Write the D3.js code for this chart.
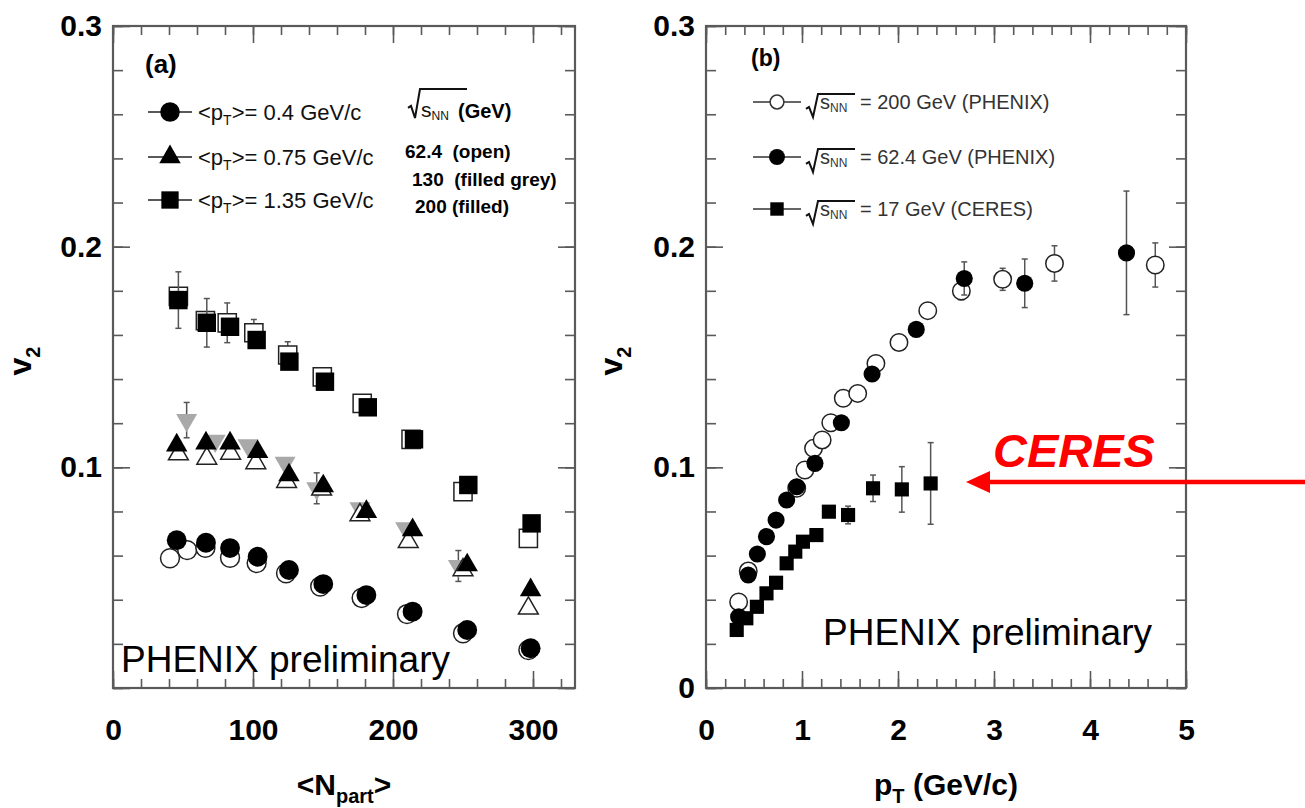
<!DOCTYPE html>
<html>
<head>
<meta charset="utf-8">
<script src="https://cdn.jsdelivr.net/npm/d3@7"></script>
<style>
  body { margin: 0; background: #fff; }
  svg { display: block; font-family: "Liberation Sans", Arial, sans-serif; }
</style>
</head>
<body>
<div id="chart"></div>
<script>
// ---- data ----
const v2Major = [0, 0.1, 0.2, 0.3];
const v2Minor = d3.range(0, 0.301, 0.02);
const npartMajor = [0, 100, 200, 300];
const npartMinor = d3.range(0, 321, 20);
const ptMajor = [0, 1, 2, 3, 4, 5];
const ptMinor = d3.range(0, 5.01, 0.2);

// panel (a): [Npart, v2, err]
const circ62 = [[40.7,0.0588],[53,0.0625],[66,0.0635],[83.6,0.059],[102.6,0.0566],[123.6,0.052],[148,0.046],[177.6,0.0408],[210,0.0335],[250,0.0248],[296.7,0.0172]];
const circ200 = [[45.5,0.067],[66.4,0.0658],[83.6,0.0634],[103.3,0.0595],[125.7,0.0535],[150.2,0.0471],[181,0.0421],[214,0.0346],[253,0.0263],[298.3,0.018]];
const tri130 = [[52.6,0.1214,0.008],[73,0.112],[96.4,0.110],[122.9,0.102],[145.5,0.0905,0.007],[176.4,0.0814],[209,0.0724],[246.7,0.0553,0.007]];
const tri62 = [[46.7,0.106],[67,0.104],[84,0.1063],[102,0.102],[124,0.0935],[149,0.090],[176.4,0.0784],[210.9,0.0663],[250,0.0535],[296.7,0.0361]];
const tri200 = [[45.5,0.110],[66.4,0.1109],[83.6,0.1109],[103.3,0.107],[125.7,0.0965],[150.2,0.0915],[181,0.0799],[214,0.0716],[253,0.0557],[298.3,0.0444]];
const sq62 = [[46.7,0.1775],[66,0.1665],[81.6,0.1655,0.009],[100.6,0.161,0.006],[124.8,0.1509,0.006],[149.5,0.141],[178,0.129],[212.9,0.1127],[250,0.089,0.003],[296.7,0.0678,0.003]];
const sq200 = [[46.7,0.1758,0.0128],[67,0.1655,0.011],[83.6,0.1637],[102.6,0.1577],[126,0.1479],[151.4,0.1388],[182,0.1272],[215,0.1127],[253.8,0.092],[299,0.0746]];

// panel (b): [pT, v2, err]
const phenix200 = [[0.34,0.039],[0.44,0.053],[0.945,0.0905],[1.03,0.0988],[1.12,0.1086],[1.21,0.1124],[1.3,0.1202],[1.43,0.1313],[1.58,0.1335],[1.77,0.1471],[2.01,0.1566],[2.31,0.171],[2.66,0.1799,0.004],[3.09,0.1852,0.005],[3.63,0.1924,0.008],[4.68,0.1917,0.01]];
const phenix62 = [[0.34,0.0323],[0.44,0.0512],[0.535,0.0607],[0.63,0.0686],[0.73,0.0761],[0.84,0.0852],[0.945,0.0912],[1.135,0.1018],[1.41,0.1202],[1.73,0.1423],[2.19,0.1625],[2.69,0.1856,0.0075],[3.32,0.1834,0.011],[4.38,0.1972,0.028]];
const ceres17 = [[0.32,0.0263],[0.42,0.0316],[0.53,0.0368],[0.63,0.0429],[0.73,0.0477],[0.84,0.0565],[0.93,0.0618],[1.01,0.0663],[1.15,0.0693],[1.28,0.0799],[1.48,0.0784,0.004],[1.74,0.0905,0.006],[2.04,0.090,0.0103],[2.34,0.0927,0.0185]];

const legendA = ["0.4 GeV/c", "0.75 GeV/c", "1.35 GeV/c"];
const energyA = ["62.4  (open)", "130  (filled grey)", "200 (filled)"];
const legendB = ["= 200 GeV (PHENIX)", "= 62.4 GeV (PHENIX)", "= 17 GeV (CERES)"];

// ---- setup ----
const width = 1305, height = 808;
const svg = d3.select("#chart").append("svg")
  .attr("width", width).attr("height", height);

const plotTop = 26, plotBottom = 688;
const y = d3.scaleLinear().domain([0, 0.3]).range([plotBottom, plotTop]);
const xa = d3.scaleLinear().domain([0, 330]).range([113, 575]);
const xb = d3.scaleLinear().domain([0, 5]).range([706, 1186]);

const frameColor = "#5a5a5a";
const fmtY = d => d === 0 ? "0" : d3.format(".1f")(d);

function drawFrame(x, xMajor, xMinor, showZero) {
  const [x0, x1] = x.range();
  const g = svg.append("g");
  const styleAxis = sel => {
    sel.select(".domain").remove();
    sel.selectAll("line").attr("stroke", frameColor).attr("stroke-width", 1.6);
  };
  // minor ticks on all four sides
  g.append("g").attr("transform", `translate(0,${plotBottom})`)
    .call(d3.axisBottom(x).tickValues(xMinor).tickSize(-9).tickFormat("")).call(styleAxis);
  g.append("g").attr("transform", `translate(0,${plotTop})`)
    .call(d3.axisTop(x).tickValues(xMinor).tickSize(-9).tickFormat("")).call(styleAxis);
  g.append("g").attr("transform", `translate(${x0},0)`)
    .call(d3.axisLeft(y).tickValues(v2Minor).tickSize(-10).tickFormat("")).call(styleAxis);
  g.append("g").attr("transform", `translate(${x1},0)`)
    .call(d3.axisRight(y).tickValues(v2Minor).tickSize(-10).tickFormat("")).call(styleAxis);
  // major ticks
  g.append("g").attr("transform", `translate(0,${plotBottom})`)
    .call(d3.axisBottom(x).tickValues(xMajor).tickSize(-17).tickPadding(31).tickFormat(d3.format("d")))
    .call(styleAxis);
  g.append("g").attr("transform", `translate(0,${plotTop})`)
    .call(d3.axisTop(x).tickValues(xMajor).tickSize(-17).tickFormat("")).call(styleAxis);
  g.append("g").attr("transform", `translate(${x0},0)`)
    .call(d3.axisLeft(y).tickValues(v2Major).tickSize(-17).tickPadding(11)
      .tickFormat(d => (d === 0 && !showZero) ? "" : fmtY(d)))
    .call(styleAxis);
  g.append("g").attr("transform", `translate(${x1},0)`)
    .call(d3.axisRight(y).tickValues(v2Major).tickSize(-17).tickFormat("")).call(styleAxis);
  g.selectAll("text").attr("font-family", "Liberation Sans, Arial, sans-serif")
    .attr("font-size", 30).attr("font-weight", "bold").attr("fill", "#000");
  g.append("rect").attr("x", x0).attr("y", plotTop).attr("width", x1 - x0).attr("height", plotBottom - plotTop)
    .attr("fill", "none").attr("stroke", frameColor).attr("stroke-width", 2.2);
}

drawFrame(xa, npartMajor, npartMinor, false);
drawFrame(xb, ptMajor, ptMinor, true);

// ---- markers ----
const sym = (type, size) => d3.symbol().type(type).size(size)();

function series(x, data, opts) {
  const g = svg.append("g");
  const errs = data.filter(d => d[2]);
  g.selectAll("line.err").data(errs).join("line")
    .attr("x1", d => x(d[0])).attr("x2", d => x(d[0]))
    .attr("y1", d => y(d[1] - d[2])).attr("y2", d => y(d[1] + d[2]))
    .attr("stroke", "#555").attr("stroke-width", 1.5);
  errs.forEach(d => {
    [d[1] - d[2], d[1] + d[2]].forEach(v => {
      g.append("line").attr("x1", x(d[0]) - 3).attr("x2", x(d[0]) + 3)
        .attr("y1", y(v)).attr("y2", y(v)).attr("stroke", "#555").attr("stroke-width", 1.5);
    });
  });
  g.selectAll("path.m").data(data).join("path")
    .attr("d", sym(opts.type, opts.size))
    .attr("transform", d => `translate(${x(d[0])},${y(d[1])})${opts.rot ? " rotate(180)" : ""}`)
    .attr("fill", opts.fill)
    .attr("stroke", opts.stroke || "none")
    .attr("stroke-width", opts.sw || 1.5);
}

// panel (a)
series(xa, tri130, { type: d3.symbolTriangle, size: 190, fill: "#a9a9a9", rot: true });
series(xa, circ62, { type: d3.symbolCircle, size: 280, fill: "#fff", stroke: "#222" });
series(xa, tri62, { type: d3.symbolTriangle, size: 170, fill: "#fff", stroke: "#222" });
series(xa, sq62, { type: d3.symbolSquare, size: 330, fill: "#fff", stroke: "#222" });
series(xa, circ200, { type: d3.symbolCircle, size: 310, fill: "#000" });
series(xa, tri200, { type: d3.symbolTriangle, size: 200, fill: "#000" });
series(xa, sq200, { type: d3.symbolSquare, size: 340, fill: "#000" });

// panel (b)
series(xb, ceres17, { type: d3.symbolSquare, size: 200, fill: "#000" });
series(xb, phenix200, { type: d3.symbolCircle, size: 240, fill: "#fff", stroke: "#222" });
series(xb, phenix62, { type: d3.symbolCircle, size: 230, fill: "#000" });

// ---- legends ----
function radical(g, x0, yTop, yBot, len) {
  const mid = yBot - (yBot - yTop) * 0.35;
  g.append("path")
    .attr("d", `M${x0},${mid} L${x0 + 3},${mid - 2} L${x0 + 7},${yBot} L${x0 + 12},${yTop} L${x0 + 12 + len},${yTop}`)
    .attr("fill", "none").attr("stroke", "#111").attr("stroke-width", 2);
}

const la = svg.append("g");
la.append("text").attr("x", 145).attr("y", 73).attr("font-size", 26).attr("font-weight", "bold").text("(a)");
const rowsA = [112, 157, 200];
const shapesA = [d3.symbolCircle, d3.symbolTriangle, d3.symbolSquare];
const sizesA = [300, 200, 300];
legendA.forEach((lab, i) => {
  const ry = rowsA[i];
  la.append("line").attr("x1", 148).attr("x2", 192).attr("y1", ry).attr("y2", ry)
    .attr("stroke", "#222").attr("stroke-width", 1.5);
  la.append("path").attr("d", sym(shapesA[i], sizesA[i]))
    .attr("transform", `translate(170,${ry})`).attr("fill", "#000");
  const t = la.append("text").attr("x", 198).attr("y", ry + 8).attr("font-size", 22).attr("fill", "#111");
  t.append("tspan").text("<p");
  t.append("tspan").attr("font-size", 14).attr("dy", 5).text("T");
  t.append("tspan").attr("dy", -5).text(">= " + lab);
});
radical(la, 408, 89, 118, 47);
const sa = la.append("text").attr("x", 421).attr("y", 117).attr("font-size", 21).attr("fill", "#111");
sa.append("tspan").text("s");
sa.append("tspan").attr("font-size", 12).attr("dy", 3).text("NN");
la.append("text").attr("x", 458).attr("y", 118).attr("font-size", 20).attr("font-weight", "bold").text("(GeV)");
const energyX = [405, 412, 415], energyY = [158, 186, 213];
energyA.forEach((lab, i) => {
  la.append("text").attr("x", energyX[i]).attr("y", energyY[i]).attr("font-size", 19)
    .attr("font-weight", "bold").style("white-space", "pre").text(lab);
});

const lb = svg.append("g");
lb.append("text").attr("x", 751).attr("y", 66).attr("font-size", 23).attr("font-weight", "bold").text("(b)");
const rowsB = [102, 157, 209];
legendB.forEach((lab, i) => {
  const ry = rowsB[i];
  lb.append("line").attr("x1", 753).attr("x2", 801).attr("y1", ry).attr("y2", ry)
    .attr("stroke", "#333").attr("stroke-width", 1.5);
  const m = lb.append("path").attr("transform", `translate(777,${ry})`);
  if (i === 0) m.attr("d", sym(d3.symbolCircle, 150)).attr("fill", "#fff").attr("stroke", "#333").attr("stroke-width", 1.5);
  if (i === 1) m.attr("d", sym(d3.symbolCircle, 200)).attr("fill", "#000");
  if (i === 2) m.attr("d", sym(d3.symbolSquare, 180)).attr("fill", "#000");
  radical(lb, 806, ry - 8, ry + 15, 37);
  const s = lb.append("text").attr("x", 820).attr("y", ry + 7).attr("font-size", 20).attr("fill", "#333");
  s.append("tspan").text("s");
  s.append("tspan").attr("font-size", 12).attr("dy", 3).text("NN");
  lb.append("text").attr("x", 860).attr("y", ry + 7).attr("font-size", 20).attr("fill", "#333").text(lab);
});

// ---- axis titles ----
const titleA = svg.append("text").attr("x", 344).attr("y", 795).attr("text-anchor", "middle")
  .attr("font-size", 30).attr("font-weight", "bold");
titleA.append("tspan").text("<N");
titleA.append("tspan").attr("font-size", 20).attr("dy", 8).text("part");
titleA.append("tspan").attr("dy", -8).text(">");

const titleB = svg.append("text").attr("x", 946).attr("y", 795).attr("text-anchor", "middle")
  .attr("font-size", 30).attr("font-weight", "bold");
titleB.append("tspan").text("p");
titleB.append("tspan").attr("font-size", 20).attr("dy", 8).text("T");
titleB.append("tspan").attr("dy", -8).text(" (GeV/c)");

[[31, 361], [622, 361]].forEach(([tx, ty]) => {
  const t = svg.append("text").attr("transform", `translate(${tx},${ty}) rotate(-90)`)
    .attr("text-anchor", "middle").attr("font-size", 32).attr("font-weight", "bold");
  t.append("tspan").text("v");
  t.append("tspan").attr("font-size", 20).attr("dy", 9).text("2");
});

// ---- annotations ----
svg.append("text").attr("x", 121).attr("y", 672).attr("font-size", 37).text("PHENIX preliminary");
svg.append("text").attr("x", 823).attr("y", 645).attr("font-size", 37).text("PHENIX preliminary");
svg.append("text").attr("x", 993).attr("y", 467).attr("font-size", 47).attr("font-weight", "bold")
  .attr("font-style", "italic").attr("fill", "#ff0000").text("CERES");
svg.append("line").attr("x1", 1305).attr("x2", 984).attr("y1", 482).attr("y2", 482)
  .attr("stroke", "#ff0000").attr("stroke-width", 4.5);
svg.append("path").attr("d", "M966,482 L990,471 L990,493 Z").attr("fill", "#ff0000");
</script>
</body>
</html>
